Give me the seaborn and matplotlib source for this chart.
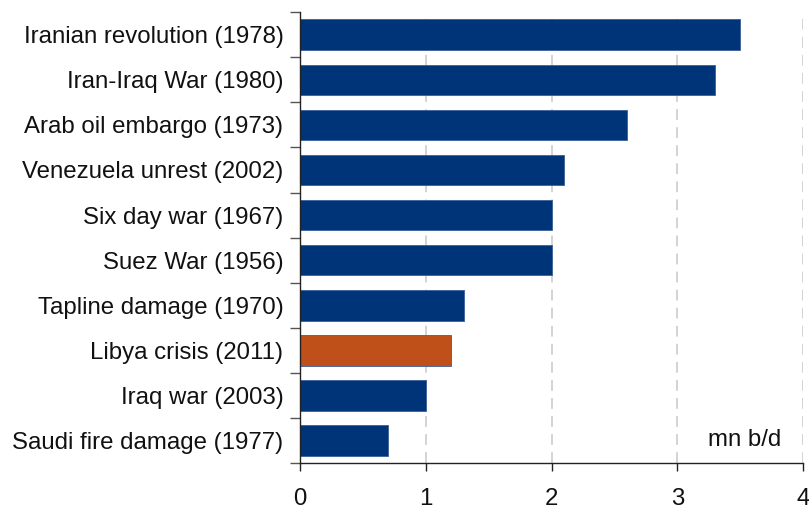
import numpy as np
import pandas as pd
import matplotlib
matplotlib.use("Agg")
import matplotlib.pyplot as plt
import seaborn as sns

events = [
    "Iranian revolution (1978)",
    "Iran-Iraq War (1980)",
    "Arab oil embargo (1973)",
    "Venezuela unrest (2002)",
    "Six day war (1967)",
    "Suez War (1956)",
    "Tapline damage (1970)",
    "Libya crisis (2011)",
    "Iraq war (2003)",
    "Saudi fire damage (1977)",
]
supply_loss = [3.5, 3.3, 2.6, 2.1, 2.0, 2.0, 1.3, 1.2, 1.0, 0.7]
highlight = "Libya crisis (2011)"

df = pd.DataFrame({"event": events, "loss": supply_loss})
navy = "#003479"
orange = "#C0501A"
palette = {e: (orange if e == highlight else navy) for e in events}

sns.set_style("white")
plt.rcParams["font.family"] = ["Liberation Sans", "DejaVu Sans"]

fig = plt.figure(figsize=(8.09, 5.09), dpi=100)
ax = fig.add_axes([0.371, 0.0904, 0.6216, 0.8856])

sns.barplot(data=df, x="loss", y="event", hue="event", palette=palette,
            order=events, width=0.68, saturation=1, edgecolor="#3a5f9a",
            linewidth=0.6, legend=False, ax=ax)

ax.set_xlim(0, 4)
ax.set_ylim(len(events) - 0.5, -0.5)
ax.set_xticks([0, 1, 2, 3, 4])
ax.set_xlabel("")
ax.set_ylabel("")

for x in [1, 2, 3, 4]:
    ax.axvline(x, color="#d0d0d0", linestyle=(0, (6, 4)), linewidth=1.3, zorder=0)
ax.set_axisbelow(True)

for s in ["top", "right"]:
    ax.spines[s].set_visible(False)
for s in ["left", "bottom"]:
    ax.spines[s].set_color("#222222")
    ax.spines[s].set_linewidth(1.0)

# y ticks at category boundaries
ax.set_yticks(np.arange(len(events)), minor=False)
ax.set_yticks(np.arange(len(events) + 1) - 0.5, minor=True)
ax.tick_params(axis="y", which="major", left=True, length=0, labelsize=17.3,
               pad=12, labelcolor="#111111")
ax.tick_params(axis="y", which="minor", left=True, length=7, width=1.0,
               color="#555555", direction="out")
ax.tick_params(axis="x", which="major", bottom=True, length=6, width=1.0,
               color="#222222", direction="out", labelsize=17.3, pad=12,
               labelcolor="#111111")

ax.text(3.83, 9, "mn b/d", ha="right", va="center", fontsize=17.3, color="#111111")

fig.savefig("out.png", dpi=100)
